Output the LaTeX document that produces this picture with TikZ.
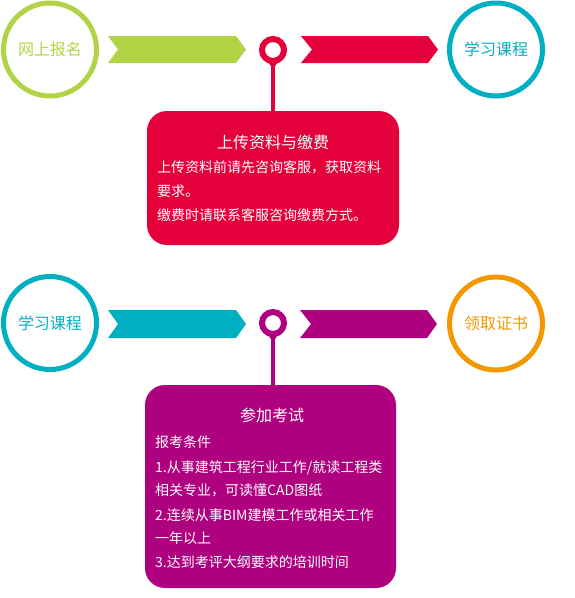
\documentclass[tikz,border=0pt]{standalone}
\usepackage{fontspec}
\newfontfamily\cjk{Noto Sans CJK SC}
\definecolor{cgreen}{HTML}{B3D346}
\definecolor{cred}{HTML}{E4003A}
\definecolor{ccyan}{HTML}{00AFC1}
\definecolor{cmag}{HTML}{AE007F}
\definecolor{corange}{HTML}{F39800}
\begin{document}
\begin{tikzpicture}[x=1pt,y=-1pt,
  stepcircle/.style={circle, draw=#1, line width=5pt, minimum size=93pt, inner sep=0pt, text=#1, font=\cjk\fontsize{16}{16}\selectfont},
  pinring/.style={circle, draw=#1, line width=6pt, fill=white, minimum size=22pt, inner sep=0pt},
  stem/.style={draw=#1, line width=4pt},
  infobox/.style={fill=#1, rounded corners=20pt, inner sep=0pt},
  boxtitle/.style={text=white, font=\cjk\fontsize{16}{16}\selectfont, anchor=base, inner sep=0pt},
  boxline/.style={text=white, font=\cjk\fontsize{14}{16}\selectfont, anchor=base west, inner sep=0pt}
]
\useasboundingbox (0,0) rectangle (575,598);

% ---------- top row ----------
\node[stepcircle=cgreen] (c1) at (50,49.5) {网上报名};
\fill[cgreen] (108,36) -- (236,36) -- (246,49.5) -- (236,63) -- (108,63) -- (118,49.5) -- cycle;
\node[pinring=cred] (p1) at (273,50) {};
\fill[cred] ([shift={(-7,9)}]p1.center) -- ([shift={(7,9)}]p1.center) -- ([shift={(0,19)}]p1.center) -- cycle;
\fill[cred] (301,36) -- (428,36) -- (438,49.5) -- (428,63) -- (301,63) -- (312,49.5) -- cycle;
\node[stepcircle=ccyan] (c2) at (496,49.5) {学习课程};

\node[infobox=cred, minimum width=252pt, minimum height=134pt] (b1) at (273,178) {};
\draw[stem=cred] (p1.south) -- (b1.north);
\node[boxtitle] (t1) at (273,148) {上传资料与缴费};
\node[boxline] (t1a) at (157,172) {上传资料前请先咨询客服，获取资料};
\node[boxline] (t1b) at (157,196) {要求。};
\node[boxline] (t1c) at (157,220) {缴费时请联系客服咨询缴费方式。};

% ---------- bottom row ----------
\node[stepcircle=ccyan] (c3) at (50,323) {学习课程};
\fill[ccyan] (108,310) -- (236,310) -- (246,324) -- (236,338) -- (108,338) -- (118,324) -- cycle;
\node[pinring=cmag] (p2) at (273,323) {};
\fill[cmag] ([shift={(-7,9)}]p2.center) -- ([shift={(7,9)}]p2.center) -- ([shift={(0,19)}]p2.center) -- cycle;
\fill[cmag] (300,310) -- (427,310) -- (437,324) -- (427,338) -- (300,338) -- (311,324) -- cycle;
\node[stepcircle=corange] (c4) at (496,323.5) {领取证书};

\node[infobox=cmag, minimum width=251pt, minimum height=203pt] (b2) at (270.5,486.5) {};
\draw[stem=cmag] (p2.south) -- (b2.north -| p2.south);
\node[boxtitle] (t2) at (272,421) {参加考试};
\node[boxline] (t2a) at (155,447) {报考条件};
\node[boxline] (t2b) at (155,472) {1.从事建筑工程行业工作/就读工程类};
\node[boxline] (t2c) at (155,495) {相关专业，可读懂CAD图纸};
\node[boxline] (t2d) at (155,520) {2.连续从事BIM建模工作或相关工作};
\node[boxline] (t2e) at (155,543) {一年以上};
\node[boxline] (t2f) at (155,567) {3.达到考评大纲要求的培训时间};
\end{tikzpicture}
\end{document}
